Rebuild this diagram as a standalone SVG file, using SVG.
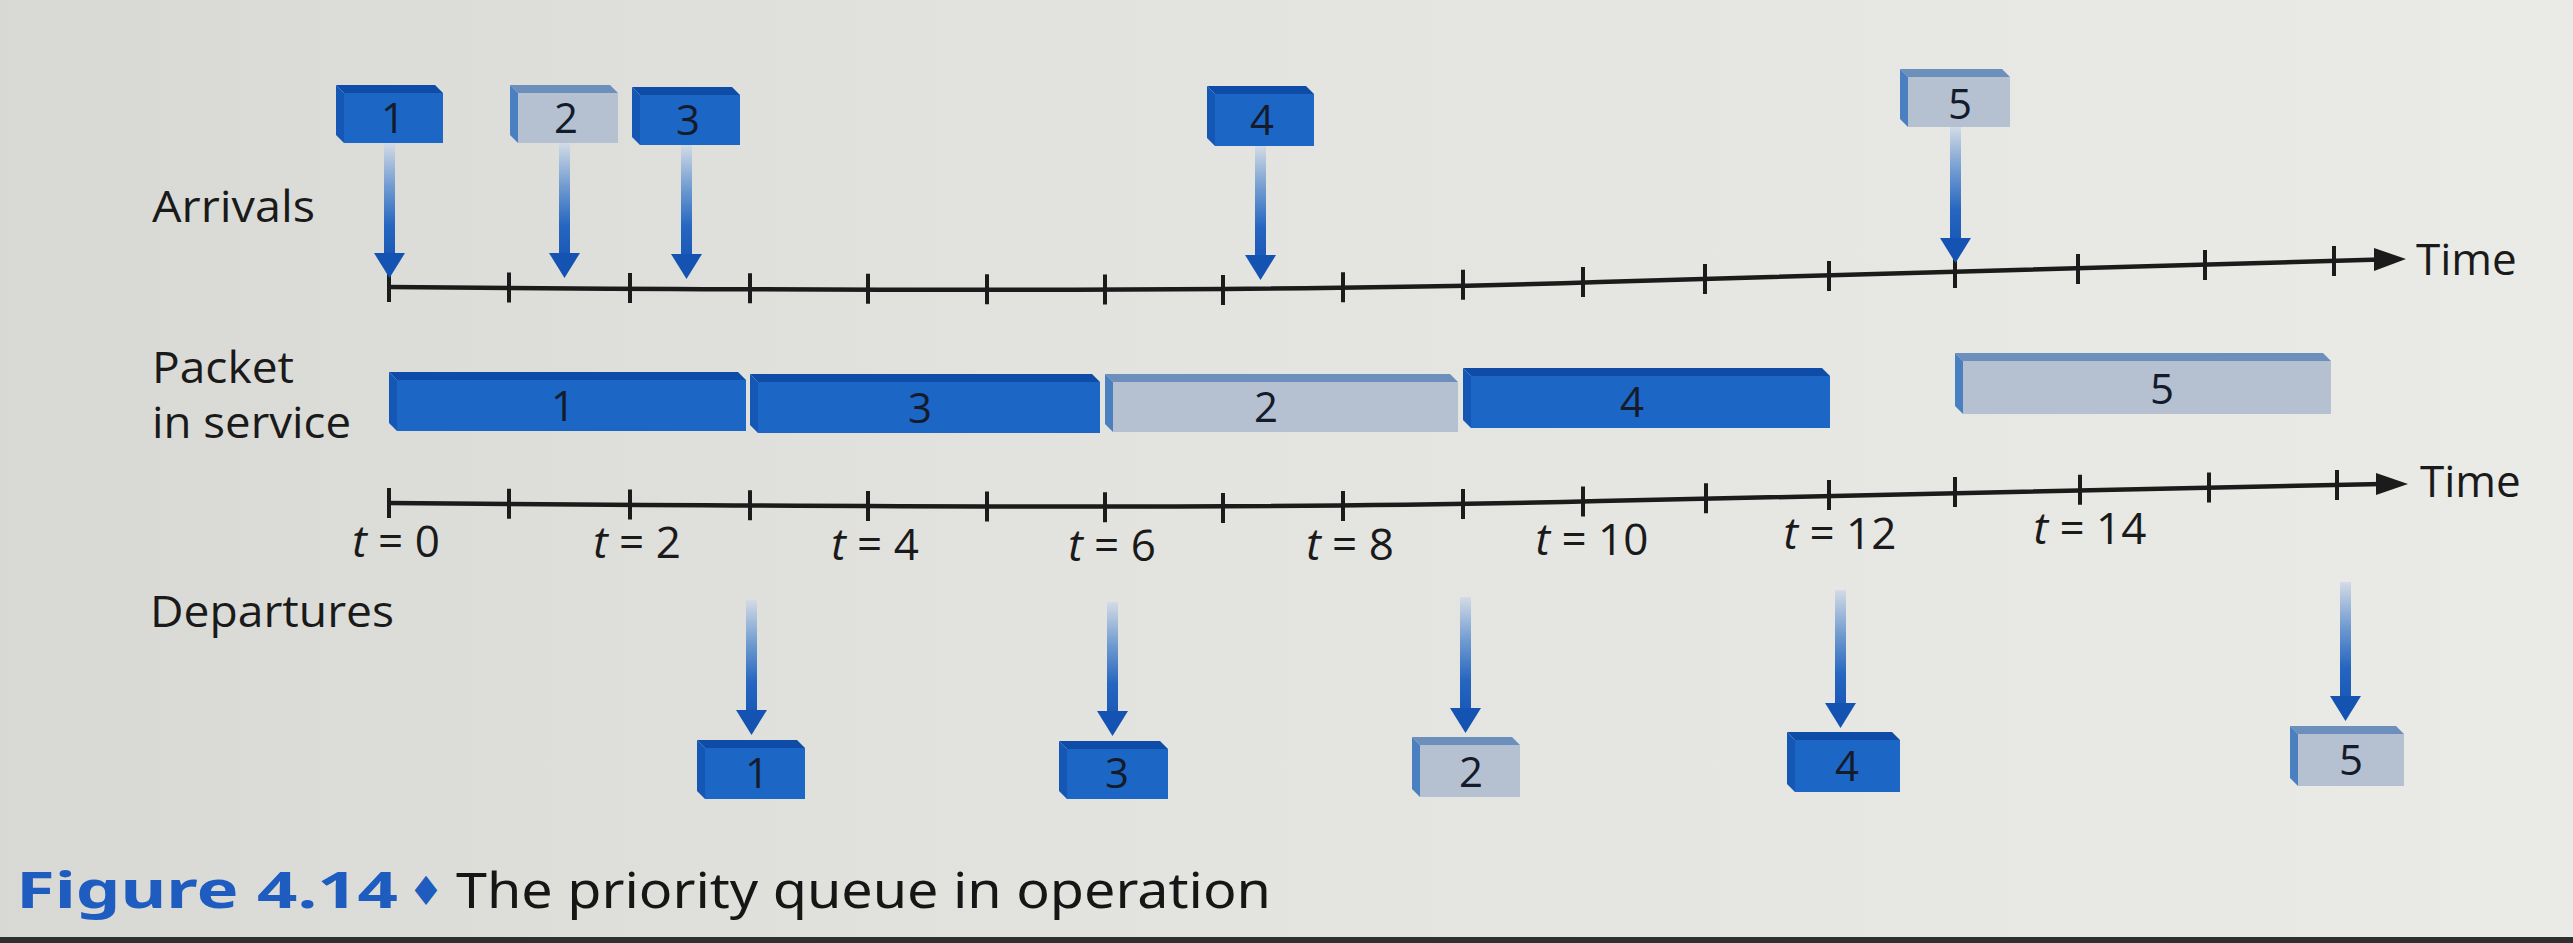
<svg xmlns="http://www.w3.org/2000/svg" width="2573" height="943" viewBox="0 0 2573 943">
<defs>
  <linearGradient id="bg" x1="0" y1="0" x2="1" y2="0">
    <stop offset="0" stop-color="#d8d9d5"/>
    <stop offset="0.4" stop-color="#e2e2de"/>
    <stop offset="1" stop-color="#eaeae7"/>
  </linearGradient>
  <linearGradient id="shaft" x1="0" y1="0" x2="0" y2="1">
    <stop offset="0" stop-color="#d3dbe6"/>
    <stop offset="0.4" stop-color="#6f9ad0"/>
    <stop offset="0.75" stop-color="#2666c0"/>
    <stop offset="1" stop-color="#1b5ab8"/>
  </linearGradient>
</defs>
<style>
  .lbl{font-family:"Open Sans","Liberation Sans",sans-serif;font-size:44px;fill:#1a1a1a}
  .num{font-family:"Open Sans","Liberation Sans",sans-serif;font-size:42px;fill:#141c2c;text-anchor:middle}
  .tl{font-family:"Open Sans","Liberation Sans",sans-serif;font-size:44px;fill:#1a1a1a;text-anchor:middle}
  .dt{fill:#0e4ca8}.dl{fill:#1557b4}.df{fill:#1c66c6}
  .lt{fill:#6c8fbc}.ll{fill:#4a7fc0}.lf{fill:#b5c1d0}
  .axis{fill:none;stroke:#1b1b1b;stroke-width:4.5}
  .tick{fill:none;stroke:#1b1b1b;stroke-width:4}
  .ah{fill:#1b1b1b}
  .shaft{fill:url(#shaft)}
  .head{fill:#1553b2}
  .capb{font-family:"Noto Sans","Open Sans",sans-serif;font-weight:bold;font-size:50px;fill:#1f5cc0}
  .capd{font-family:"DejaVu Sans",sans-serif;font-size:40px;fill:#1f5cc0;text-anchor:middle}
  .capr{font-family:"Noto Sans","Open Sans",sans-serif;font-size:50px;fill:#161616}
</style>
<rect width="2573" height="943" fill="url(#bg)"/>
<rect x="0" y="937" width="2573" height="6" fill="#2f2f2f"/>

<g id="row-labels">
  <text class="lbl" x="152" y="222" textLength="163" lengthAdjust="spacingAndGlyphs">Arrivals</text>
  <text class="lbl" x="152" y="383" textLength="142" lengthAdjust="spacingAndGlyphs">Packet</text>
  <text class="lbl" x="152" y="438" textLength="199" lengthAdjust="spacingAndGlyphs">in service</text>
  <text class="lbl" x="150" y="627" textLength="244" lengthAdjust="spacingAndGlyphs">Departures</text>
</g>

<g id="connectors">
  <g id="time-axis-top">
    <path class="axis" d="M389,287C900,291 1300,292 1600,282S2200,266 2380,259.5"/>
    <polygon class="ah" points="2406,259 2374,248 2374,271"/>
    <path class="tick" d="M389,272V302M509,272.4V302.4M630,272.9V302.9M750,273.3V303.3M868,273.7V303.7M987,274.2V304.2M1105,274.6V304.6M1223,275V305M1343,272.3V302.3M1463,269.7V299.7M1583,267V297M1705,264V294M1829,261V291M1955,258V288M2078,254V284M2205,250V280M2334,246V276"/>
  </g>
  <g id="time-axis-bottom">
    <path class="axis" d="M389,503C900,507 1300,509 1600,501S2200,488 2382,484"/>
    <polygon class="ah" points="2408,484 2376,473 2376,495"/>
    <path class="tick" d="M389,488V518M509,488.7V518.7M630,489.4V519.4M750,490.2V520.2M868,490.9V520.9M987,491.6V521.6M1105,492.3V522.3M1223,493V523M1343,491V521M1463,489V519M1583,486.5V516.5M1706,483.2V513.2M1829,480V510M1955,477V507M2080,474.7V504.7M2209,472.4V502.4M2337,470V500"/>
  </g>
  <g id="arrival-arrows">
    <rect class="shaft" x="384" y="143" width="11" height="110"/><polygon class="head" points="374,253 405,253 389.5,278"/>
    <rect class="shaft" x="559" y="143" width="11" height="110"/><polygon class="head" points="549,253 580,253 564.5,278"/>
    <rect class="shaft" x="681" y="145" width="11" height="109"/><polygon class="head" points="671,254 702,254 686.5,279"/>
    <rect class="shaft" x="1255" y="146" width="11" height="109"/><polygon class="head" points="1245,255 1276,255 1260.5,280"/>
    <rect class="shaft" x="1950" y="127" width="11" height="111"/><polygon class="head" points="1940,238 1971,238 1955.5,263"/>
  </g>
  <g id="departure-arrows">
    <rect class="shaft" x="746" y="600" width="11" height="110"/><polygon class="head" points="736,710 767,710 751.5,735"/>
    <rect class="shaft" x="1107" y="602" width="11" height="109"/><polygon class="head" points="1097,711 1128,711 1112.5,736"/>
    <rect class="shaft" x="1460" y="597" width="11" height="111"/><polygon class="head" points="1450,708 1481,708 1465.5,733"/>
    <rect class="shaft" x="1835" y="590" width="11" height="113"/><polygon class="head" points="1825,703 1856,703 1840.5,728"/>
    <rect class="shaft" x="2340" y="582" width="11" height="114"/><polygon class="head" points="2330,696 2361,696 2345.5,721"/>
  </g>
</g>

<g id="axis-labels">
  <text class="tl" x="396" y="557"><tspan font-style="italic">t</tspan> = 0</text>
  <text class="tl" x="637" y="558"><tspan font-style="italic">t</tspan> = 2</text>
  <text class="tl" x="875" y="560"><tspan font-style="italic">t</tspan> = 4</text>
  <text class="tl" x="1112" y="561"><tspan font-style="italic">t</tspan> = 6</text>
  <text class="tl" x="1350" y="560"><tspan font-style="italic">t</tspan> = 8</text>
  <text class="tl" x="1592" y="555"><tspan font-style="italic">t</tspan> = 10</text>
  <text class="tl" x="1840" y="549"><tspan font-style="italic">t</tspan> = 12</text>
  <text class="tl" x="2090" y="544"><tspan font-style="italic">t</tspan> = 14</text>
  <text class="lbl" x="2416" y="275">Time</text>
  <text class="lbl" x="2420" y="497">Time</text>
</g>

<g id="arrival-1" transform="translate(336,85)"><path class="dt" d="M0,0H99L107,8H8Z"/><path class="dl" d="M0,0L8,8V58L0,50Z"/><rect class="df" x="8" y="8" width="99" height="50"/><text class="num" x="57" y="48">1</text></g>
<g id="arrival-2" transform="translate(510,85)"><path class="lt" d="M0,0H100L108,8H8Z"/><path class="ll" d="M0,0L8,8V58L0,50Z"/><rect class="lf" x="8" y="8" width="100" height="50"/><text class="num" x="56" y="48">2</text></g>
<g id="arrival-3" transform="translate(632,87)"><path class="dt" d="M0,0H100L108,8H8Z"/><path class="dl" d="M0,0L8,8V58L0,50Z"/><rect class="df" x="8" y="8" width="100" height="50"/><text class="num" x="56" y="48">3</text></g>
<g id="arrival-4" transform="translate(1207,86)"><path class="dt" d="M0,0H99L107,8H8Z"/><path class="dl" d="M0,0L8,8V60L0,52Z"/><rect class="df" x="8" y="8" width="99" height="52"/><text class="num" x="55" y="49">4</text></g>
<g id="arrival-5" transform="translate(1900,69)"><path class="lt" d="M0,0H102L110,8H8Z"/><path class="ll" d="M0,0L8,8V58L0,50Z"/><rect class="lf" x="8" y="8" width="102" height="50"/><text class="num" x="60" y="50">5</text></g>

<g id="service-1" transform="translate(389,372)"><path class="dt" d="M0,0H349L357,8H8Z"/><path class="dl" d="M0,0L8,8V59L0,51Z"/><rect class="df" x="8" y="8" width="349" height="51"/><text class="num" x="174" y="49">1</text></g>
<g id="service-3" transform="translate(750,374)"><path class="dt" d="M0,0H342L350,8H8Z"/><path class="dl" d="M0,0L8,8V59L0,51Z"/><rect class="df" x="8" y="8" width="342" height="51"/><text class="num" x="170" y="49">3</text></g>
<g id="service-2" transform="translate(1105,374)"><path class="lt" d="M0,0H345L353,8H8Z"/><path class="ll" d="M0,0L8,8V58L0,50Z"/><rect class="lf" x="8" y="8" width="345" height="50"/><text class="num" x="161" y="48">2</text></g>
<g id="service-4" transform="translate(1463,368)"><path class="dt" d="M0,0H359L367,8H8Z"/><path class="dl" d="M0,0L8,8V60L0,52Z"/><rect class="df" x="8" y="8" width="359" height="52"/><text class="num" x="169" y="49">4</text></g>
<g id="service-5" transform="translate(1955,353)"><path class="lt" d="M0,0H368L376,8H8Z"/><path class="ll" d="M0,0L8,8V61L0,53Z"/><rect class="lf" x="8" y="8" width="368" height="53"/><text class="num" x="207" y="51">5</text></g>

<g id="departure-1" transform="translate(697,740)"><path class="dt" d="M0,0H100L108,8H8Z"/><path class="dl" d="M0,0L8,8V59L0,51Z"/><rect class="df" x="8" y="8" width="100" height="51"/><text class="num" x="60" y="48">1</text></g>
<g id="departure-3" transform="translate(1059,741)"><path class="dt" d="M0,0H101L109,8H8Z"/><path class="dl" d="M0,0L8,8V58L0,50Z"/><rect class="df" x="8" y="8" width="101" height="50"/><text class="num" x="58" y="47">3</text></g>
<g id="departure-2" transform="translate(1412,737)"><path class="lt" d="M0,0H100L108,8H8Z"/><path class="ll" d="M0,0L8,8V60L0,52Z"/><rect class="lf" x="8" y="8" width="100" height="52"/><text class="num" x="59" y="50">2</text></g>
<g id="departure-4" transform="translate(1787,732)"><path class="dt" d="M0,0H105L113,8H8Z"/><path class="dl" d="M0,0L8,8V60L0,52Z"/><rect class="df" x="8" y="8" width="105" height="52"/><text class="num" x="60" y="49">4</text></g>
<g id="departure-5" transform="translate(2290,726)"><path class="lt" d="M0,0H106L114,8H8Z"/><path class="ll" d="M0,0L8,8V60L0,52Z"/><rect class="lf" x="8" y="8" width="106" height="52"/><text class="num" x="61" y="49">5</text></g>

<g id="caption">
  <text class="capb" x="16" y="908" textLength="382" lengthAdjust="spacingAndGlyphs">Figure 4.14</text>
  <text class="capd" x="426" y="905">♦</text>
  <text class="capr" x="456" y="908" textLength="815" lengthAdjust="spacingAndGlyphs">The priority queue in operation</text>
</g>
</svg>
